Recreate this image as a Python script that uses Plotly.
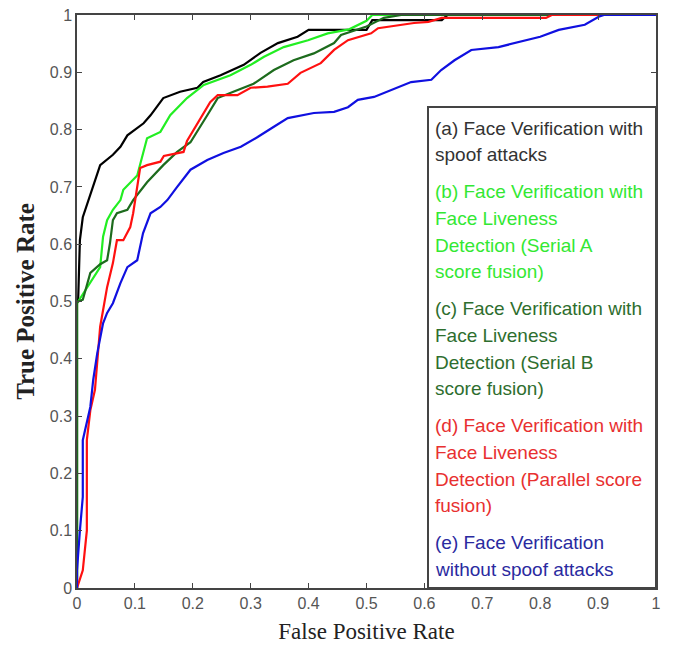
import plotly.graph_objects as go

# ---- data ----
fpr_a = [0, 0, 0.002, 0.005, 0.01, 0.023, 0.04, 0.062, 0.075, 0.087, 0.115, 0.127, 0.149, 0.178, 0.208,
         0.218, 0.248, 0.288, 0.317, 0.347, 0.381, 0.40, 0.45, 0.50, 0.51, 0.63, 0.64, 1.0]
tpr_a = [0, 0.50, 0.503, 0.607, 0.647, 0.686, 0.738, 0.756, 0.77, 0.79, 0.811, 0.825, 0.855, 0.866, 0.873,
         0.883, 0.895, 0.913, 0.934, 0.951, 0.962, 0.974, 0.974, 0.974, 0.991, 0.991, 1.0, 1.0]

fpr_b = [0, 0, 0.002, 0.023, 0.04, 0.045, 0.052, 0.062, 0.075, 0.08, 0.104, 0.121, 0.144, 0.161, 0.19,
         0.219, 0.265, 0.3, 0.323, 0.357, 0.399, 0.433, 0.47, 0.50, 0.51, 1.0]
tpr_b = [0, 0.497, 0.50, 0.532, 0.56, 0.613, 0.642, 0.66, 0.677, 0.695, 0.72, 0.785, 0.796, 0.825, 0.855,
         0.878, 0.895, 0.913, 0.927, 0.944, 0.956, 0.968, 0.975, 0.99, 1.0, 1.0]

fpr_c = [0, 0, 0.002, 0.01, 0.023, 0.04, 0.052, 0.057, 0.062, 0.069, 0.087, 0.097, 0.121, 0.149, 0.173,
         0.196, 0.225, 0.243, 0.27, 0.305, 0.34, 0.374, 0.409, 0.444, 0.456, 0.50, 0.53, 0.56, 1.0]
tpr_c = [0, 0.497, 0.50, 0.503, 0.55, 0.565, 0.572, 0.602, 0.642, 0.654, 0.66, 0.677, 0.708, 0.738, 0.761,
         0.778, 0.825, 0.855, 0.866, 0.88, 0.904, 0.921, 0.933, 0.951, 0.965, 0.98, 0.995, 1.0, 1.0]

fpr_d = [0, 0.01, 0.017, 0.017, 0.023, 0.031, 0.04, 0.045, 0.052, 0.062, 0.069, 0.08, 0.092, 0.097, 0.109,
         0.121, 0.144, 0.15, 0.184, 0.19, 0.23, 0.243, 0.277, 0.3, 0.329, 0.364, 0.386, 0.421, 0.444, 0.468,
         0.508, 0.52, 0.582, 0.607, 0.63, 0.81, 0.82, 1.0]
tpr_d = [0, 0.031, 0.1, 0.258, 0.31, 0.346, 0.456, 0.485, 0.525, 0.567, 0.607, 0.607, 0.63, 0.654, 0.733,
         0.738, 0.744, 0.754, 0.761, 0.78, 0.848, 0.86, 0.86, 0.873, 0.875, 0.88, 0.899, 0.916, 0.939, 0.956,
         0.968, 0.977, 0.986, 0.988, 0.995, 0.995, 1.0, 1.0]

fpr_e = [0, 0, 0.005, 0.01, 0.01, 0.023, 0.028, 0.035, 0.045, 0.052, 0.062, 0.075, 0.087, 0.104, 0.114,
         0.127, 0.144, 0.156, 0.173, 0.196, 0.225, 0.253, 0.283, 0.312, 0.34, 0.364, 0.409, 0.444, 0.468,
         0.485, 0.513, 0.542, 0.577, 0.612, 0.629, 0.652, 0.681, 0.728, 0.763, 0.80, 0.832, 0.877, 0.901,
         0.91, 1.0]
tpr_e = [0, 0.031, 0.1, 0.159, 0.258, 0.316, 0.363, 0.41, 0.462, 0.48, 0.497, 0.532, 0.56, 0.572, 0.619,
         0.654, 0.665, 0.677, 0.70, 0.73, 0.747, 0.759, 0.77, 0.787, 0.805, 0.82, 0.829, 0.831, 0.839,
         0.852, 0.857, 0.869, 0.883, 0.887, 0.904, 0.921, 0.939, 0.944, 0.953, 0.962, 0.974, 0.983, 0.997,
         1.0, 1.0]

series_names = [
    "(a) Face Verification with spoof attacks",
    "(b) Face Verification with Face Liveness Detection (Serial A score fusion)",
    "(c) Face Verification with Face Liveness Detection (Serial B score fusion)",
    "(d) Face Verification with Face Liveness Detection (Parallel score fusion)",
    "(e) Face Verification without spoof attacks",
]
legend_lines = [
    ["(a) Face Verification with", "spoof attacks"],
    ["(b) Face Verification with", "Face Liveness", "Detection (Serial A", "score fusion)"],
    ["(c) Face Verification with", "Face Liveness", "Detection (Serial B", "score fusion)"],
    ["(d) Face Verification with", "Face Liveness", "Detection (Parallel score", "fusion)"],
    ["(e) Face Verification", "without spoof attacks"],
]
tick_vals = [0, 0.1, 0.2, 0.3, 0.4, 0.5, 0.6, 0.7, 0.8, 0.9, 1]
tick_text = ["0", "0.1", "0.2", "0.3", "0.4", "0.5", "0.6", "0.7", "0.8", "0.9", "1"]

# ---- styles ----
line_colors = ["#000000", "#22ee22", "#1d6b1d", "#ff1010", "#1010e0"]
text_colors = ["#333333", "#33e833", "#2e6e2e", "#e83030", "#2a2aa0"]

W, H = 673, 654
L, R, T, B = 77, 17, 15, 66
plot_w = W - L - R
plot_h = H - T - B

fig = go.Figure()
for xs, ys, name, col in zip([fpr_a, fpr_b, fpr_c, fpr_d, fpr_e],
                             [tpr_a, tpr_b, tpr_c, tpr_d, tpr_e],
                             series_names, line_colors):
    fig.add_trace(go.Scatter(x=xs, y=ys, mode="lines", name=name,
                             line=dict(color=col, width=2.2), showlegend=False))

def px2paper_x(px):
    return (px - L) / plot_w

def px2paper_y(py):
    return (H - B - py) / plot_h

fig.add_shape(type="rect", xref="paper", yref="paper",
              x0=px2paper_x(428), x1=px2paper_x(656), y0=0, y1=px2paper_y(107),
              line=dict(color="#444444", width=2), fillcolor="white", layer="above")

line_step = 26.6
entry_gap = 37.2
y_px = 128
for i, lines in enumerate(legend_lines):
    for j, txt in enumerate(lines):
        fig.add_annotation(text=txt, xref="paper", yref="paper",
                           x=px2paper_x(433), y=px2paper_y(y_px),
                           xanchor="left", yanchor="middle", showarrow=False,
                           font=dict(family="Liberation Sans, Arial, sans-serif", size=19,
                                     color=text_colors[i]))
        if j < len(lines) - 1:
            y_px += line_step
    y_px += entry_gap

axis_common = dict(range=[0, 1], tickvals=tick_vals, ticktext=tick_text,
                   ticks="inside", ticklen=5, tickcolor="#444444", tickwidth=1,
                   showline=True, linecolor="#444444", linewidth=1.5, mirror="ticks",
                   showgrid=False, zeroline=False,
                   tickfont=dict(family="Liberation Sans, Arial, sans-serif", size=16, color="#555555"))

fig.update_xaxes(**axis_common,
                 title=dict(text="False Positive Rate", standoff=12,
                            font=dict(family="Liberation Serif, Times New Roman, serif", size=23,
                                      color="#222222")))
fig.update_yaxes(**axis_common,
                 title=dict(text="<b>True Positive Rate</b>", standoff=8,
                            font=dict(family="Liberation Serif, Times New Roman, serif", size=25,
                                      color="#222222")))

fig.update_layout(width=W, height=H, margin=dict(l=L, r=R, t=T, b=B, autoexpand=False),
                  paper_bgcolor="white", plot_bgcolor="white")

fig.write_html("out.html")
